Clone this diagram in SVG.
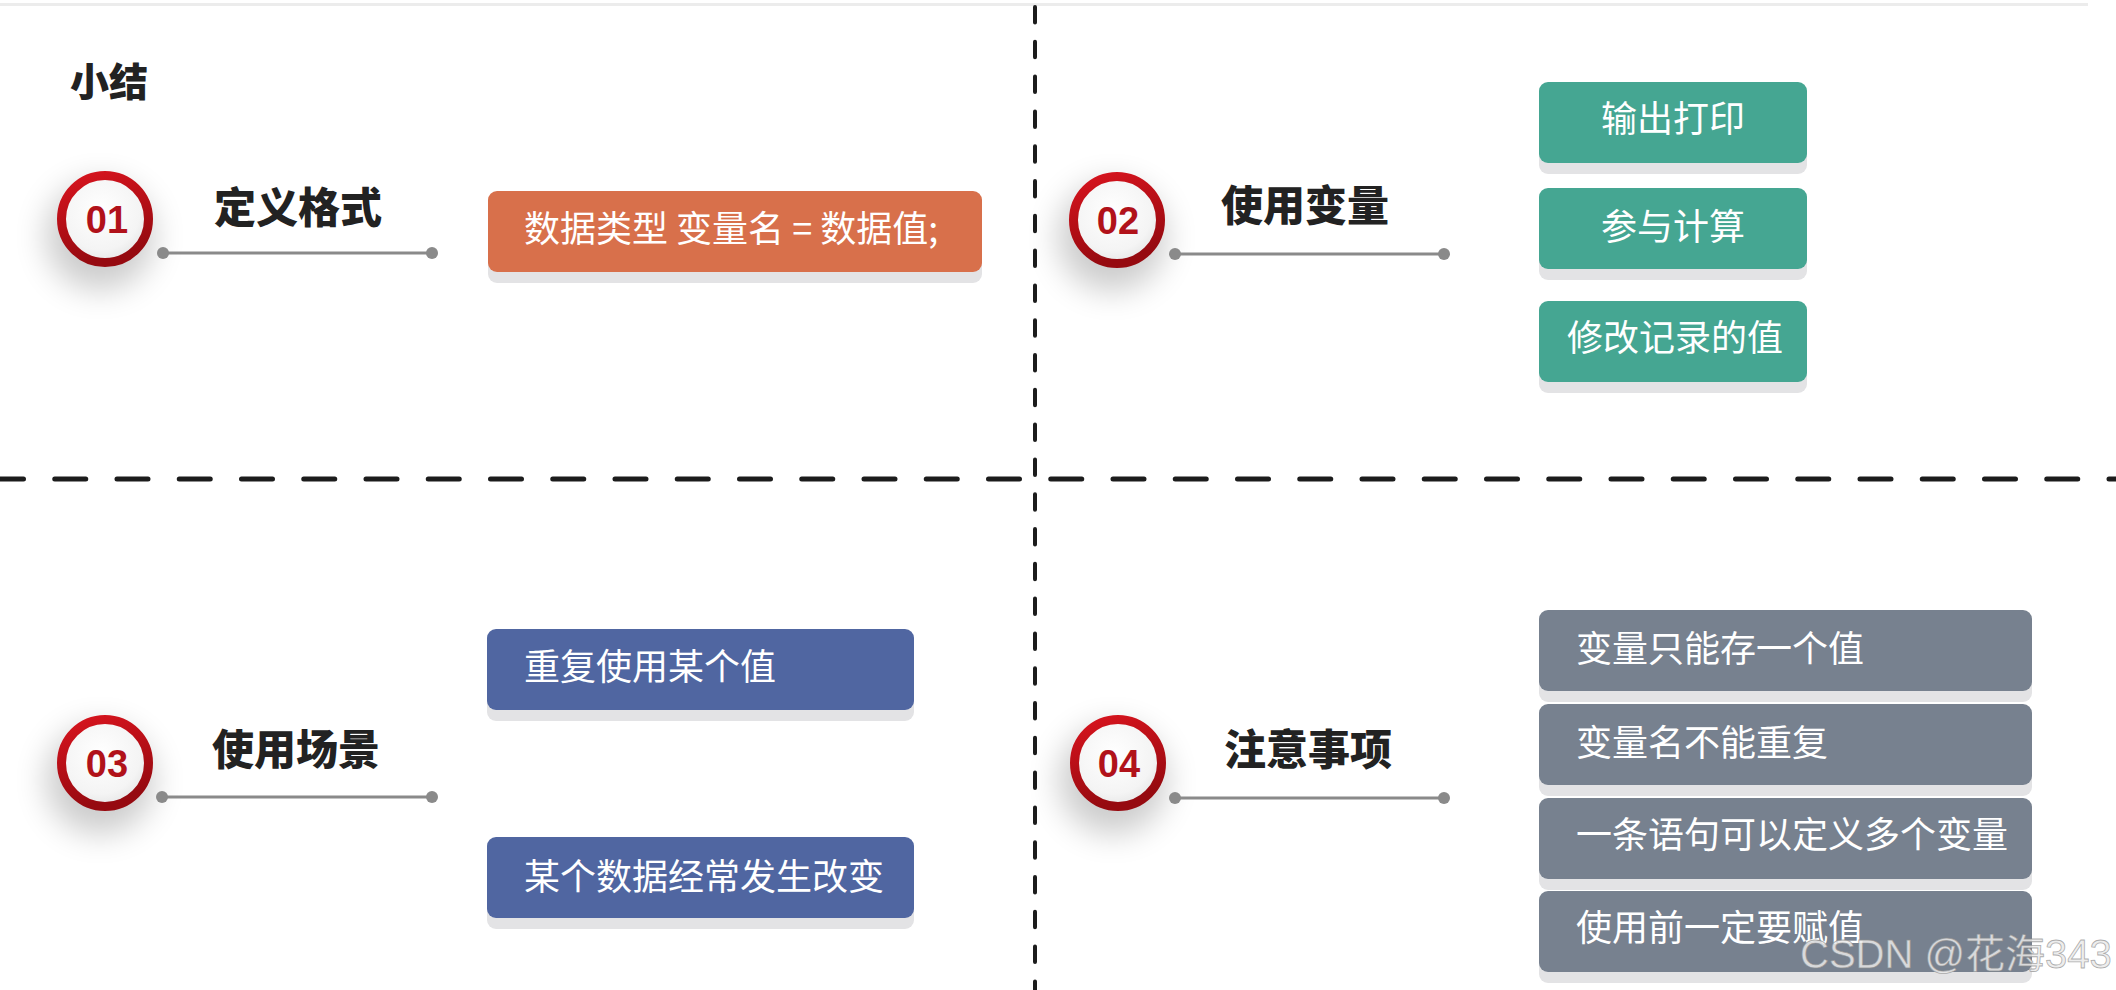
<svg xmlns="http://www.w3.org/2000/svg" width="2116" height="990" viewBox="0 0 2116 990">
<defs>
<style>
.title{font-family:"Noto Sans CJK SC","Noto Sans",sans-serif;font-weight:900;font-size:42px;fill:#222}
.num{font-family:"Liberation Sans","Noto Sans",sans-serif;font-weight:bold;font-size:38px;fill:#b1121a;text-anchor:middle}
.bt{font-family:"Noto Sans CJK SC","Noto Sans",sans-serif;font-size:36px;fill:#ffffff}
.btc{font-family:"Noto Sans CJK SC","Noto Sans",sans-serif;font-size:36px;fill:#ffffff;text-anchor:middle}
.sh{fill:#e3e3e5}
.orange{fill:#d8704b}
.green{fill:#45a692}
.blue{fill:#5066a1}
.gray{fill:#77818f}
.ring{fill:url(#inner);stroke:url(#red);stroke-width:9}
.glow{fill:#000;opacity:0.2;filter:url(#blur)}
.conn{stroke:#8a8a8a;stroke-width:3}
.dot{fill:#8a8a8a}
.dash-h{stroke:#1c1c1c;stroke-width:5;stroke-linecap:round;stroke-dasharray:31 31.25;fill:none}
.dash-v{stroke:#1c1c1c;stroke-width:4;stroke-linecap:round;stroke-dasharray:15.5 19.3;fill:none}
.wm{font-family:"Liberation Sans","Noto Sans CJK SC",sans-serif;font-size:40px;fill:#eaeaea;fill-opacity:0.85;stroke:#8c8c8c;stroke-opacity:0.7;stroke-width:0.8}
</style>
<linearGradient id="red" x1="0" y1="0" x2="0.3" y2="1">
<stop offset="0" stop-color="#d8141e"/>
<stop offset="1" stop-color="#960a10"/>
</linearGradient>
<radialGradient id="inner" cx="0.45" cy="0.4" r="0.65">
<stop offset="0" stop-color="#ffffff"/>
<stop offset="0.7" stop-color="#f4f4f4"/>
<stop offset="1" stop-color="#e2e2e2"/>
</radialGradient>
<filter id="blur" x="-100%" y="-100%" width="300%" height="300%">
<feGaussianBlur stdDeviation="16"/>
</filter>
</defs>
<rect x="0" y="0" width="2116" height="990" fill="#ffffff"/>
<rect x="0" y="3" width="2088" height="3" fill="#ececec"/>

<g id="dividers">
<line class="dash-h" x1="-7.5" y1="479" x2="2120" y2="479"/>
<line class="dash-v" x1="1035" y1="7" x2="1035" y2="995"/>
</g>

<text class="title" x="70" y="96" style="font-size:39px">小结</text>

<g id="node-01">
<circle class="glow" cx="100" cy="236" r="54"/>
<circle class="ring" cx="105" cy="219" r="43.5"/>
<text class="num" x="107" y="233">01</text>
<text class="title" x="214" y="223">定义格式</text>
</g>
<g id="box-01">
<rect class="sh" x="488" y="202" width="494" height="81" rx="9"/>
<rect class="orange" x="488" y="191" width="494" height="81" rx="9"/>
<text class="bt" x="524" y="242">数据类型 变量名 = 数据值;</text>
</g>

<g id="node-02">
<circle class="glow" cx="1112" cy="237" r="54"/>
<circle class="ring" cx="1117" cy="220" r="43.5"/>
<text class="num" x="1118" y="234">02</text>
<text class="title" x="1221" y="221">使用变量</text>
</g>
<g id="box-02a">
<rect class="sh" x="1539" y="93" width="268" height="81" rx="9"/>
<rect class="green" x="1539" y="82" width="268" height="81" rx="9"/>
<text class="btc" x="1673" y="132">输出打印</text>
</g>
<g id="box-02b">
<rect class="sh" x="1539" y="199" width="268" height="81" rx="9"/>
<rect class="green" x="1539" y="188" width="268" height="81" rx="9"/>
<text class="btc" x="1673" y="240">参与计算</text>
</g>
<g id="box-02c">
<rect class="sh" x="1539" y="312" width="268" height="81" rx="9"/>
<rect class="green" x="1539" y="301" width="268" height="81" rx="9"/>
<text class="btc" x="1675" y="351">修改记录的值</text>
</g>

<g id="node-03">
<circle class="glow" cx="100" cy="780" r="54"/>
<circle class="ring" cx="105" cy="763" r="43.5"/>
<text class="num" x="107" y="777">03</text>
<text class="title" x="212" y="765">使用场景</text>
</g>
<g id="box-03a">
<rect class="sh" x="487" y="640" width="427" height="81" rx="9"/>
<rect class="blue" x="487" y="629" width="427" height="81" rx="9"/>
<text class="bt" x="524" y="680">重复使用某个值</text>
</g>
<g id="box-03b">
<rect class="sh" x="487" y="848" width="427" height="81" rx="9"/>
<rect class="blue" x="487" y="837" width="427" height="81" rx="9"/>
<text class="bt" x="524" y="890">某个数据经常发生改变</text>
</g>

<g id="node-04">
<circle class="glow" cx="1113" cy="780" r="54"/>
<circle class="ring" cx="1118" cy="763" r="43.5"/>
<text class="num" x="1119" y="777">04</text>
<text class="title" x="1224" y="765">注意事项</text>
</g>
<g id="box-04a">
<rect class="sh" x="1539" y="621" width="493" height="81" rx="9"/>
<rect class="gray" x="1539" y="610" width="493" height="81" rx="9"/>
<text class="bt" x="1576" y="662">变量只能存一个值</text>
</g>
<g id="box-04b">
<rect class="sh" x="1539" y="715" width="493" height="81" rx="9"/>
<rect class="gray" x="1539" y="704" width="493" height="81" rx="9"/>
<text class="bt" x="1576" y="756">变量名不能重复</text>
</g>
<g id="box-04c">
<rect class="sh" x="1539" y="809" width="493" height="81" rx="9"/>
<rect class="gray" x="1539" y="798" width="493" height="81" rx="9"/>
<text class="bt" x="1576" y="848">一条语句可以定义多个变量</text>
</g>
<g id="box-04d">
<rect class="sh" x="1539" y="902" width="493" height="81" rx="9"/>
<rect class="gray" x="1539" y="891" width="493" height="81" rx="9"/>
<text class="bt" x="1576" y="941">使用前一定要赋值</text>
</g>

<g id="connectors">
<line class="conn" x1="163" y1="253" x2="432" y2="253"/>
<circle class="dot" cx="163" cy="253" r="6"/>
<circle class="dot" cx="432" cy="253" r="6"/>
<line class="conn" x1="1175" y1="254" x2="1444" y2="254"/>
<circle class="dot" cx="1175" cy="254" r="6"/>
<circle class="dot" cx="1444" cy="254" r="6"/>
<line class="conn" x1="162" y1="797" x2="432" y2="797"/>
<circle class="dot" cx="162" cy="797" r="6"/>
<circle class="dot" cx="432" cy="797" r="6"/>
<line class="conn" x1="1175" y1="798" x2="1444" y2="798"/>
<circle class="dot" cx="1175" cy="798" r="6"/>
<circle class="dot" cx="1444" cy="798" r="6"/>
</g>

<text class="wm" x="1800" y="968">CSDN @花海343</text>
</svg>
